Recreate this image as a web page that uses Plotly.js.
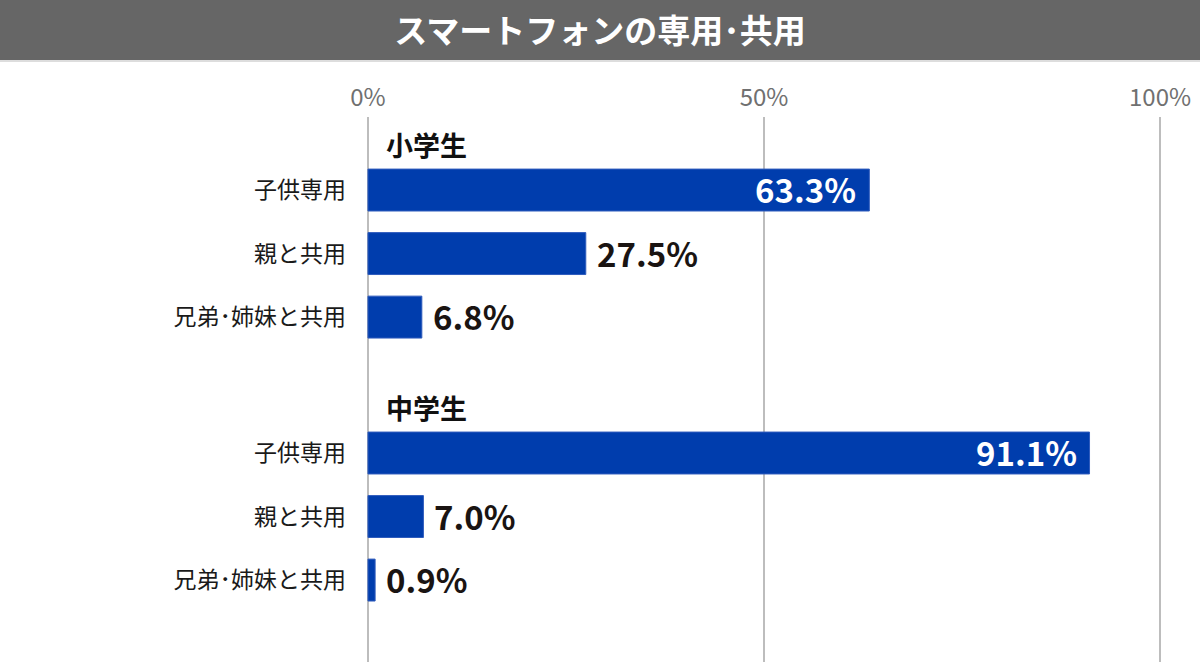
<!DOCTYPE html>
<html><head><meta charset="utf-8">
<script src="https://cdn.plot.ly/plotly-3.0.1.min.js"></script>
<style>html,body{margin:0;padding:0;background:#fff;}#chart{width:1200px;height:662px;}</style>
</head><body><div id="chart"></div>
<script>
const chartTitle = "スマートフォンの専用･共用";
const groups = ["小学生", "中学生"];
const categories = ["子供専用", "親と共用", "兄弟･姉妹と共用"];
const elementary = [63.3, 27.5, 6.8];
const juniorHigh = [91.1, 7.0, 0.9];
const xTickVals = [0, 50, 100];
const xTickText = ["0%", "50%", "100%"];

const series = [elementary, juniorHigh];
const groupStart = [0, 4.14];
const groupLabelOffset = -0.72;

const ys = [], xs = [], ticktext = [];
const annotations = [];
series.forEach((vals, g) => {
  annotations.push({
    x: 0, y: groupStart[g] + groupLabelOffset, xref: 'x', yref: 'y',
    text: groups[g], showarrow: false, xanchor: 'left', yanchor: 'middle', xshift: 16,
    font: {family: 'Noto Sans CJK JP', size: 27, color: '#111', weight: 700}
  });
  vals.forEach((v, i) => {
    const y = groupStart[g] + i;
    ys.push(y); xs.push(v); ticktext.push(categories[i]);
    const inside = v > 50;
    annotations.push({
      x: v, y: y, xref: 'x', yref: 'y', text: v.toFixed(1) + '%', showarrow: false,
      xanchor: inside ? 'right' : 'left', yanchor: 'middle', xshift: inside ? -11 : 9, yshift: 1,
      font: {family: 'Noto Sans CJK JP', size: 33, color: inside ? '#ffffff' : '#1a1412', weight: 700}
    });
  });
});

const trace = {
  type: 'bar', orientation: 'h', x: xs, y: ys, width: 0.66,
  marker: {color: '#003DAD', line: {color: '#2f5cbd', width: 1}},
  hoverinfo: 'skip', cliponaxis: false
};

const layout = {
  width: 1200, height: 662,
  margin: {l: 366, r: 38, t: 117, b: 0, pad: 0},
  paper_bgcolor: '#ffffff', plot_bgcolor: '#ffffff',
  showlegend: false,
  title: {text: chartTitle, x: 0.5, xref: 'container', xanchor: 'center', y: 1 - 31/662, yref: 'container', yanchor: 'middle',
    font: {family: 'Noto Sans CJK JP', size: 33, color: '#ffffff', weight: 700}},
  xaxis: {range: [-0.25, 100.25], side: 'top', tickvals: xTickVals, ticktext: xTickText,
    showgrid: true, gridcolor: '#bdbdbd', gridwidth: 2, zeroline: false, showline: false,
    ticks: '', ticklabelstandoff: 5,
    tickfont: {family: 'Noto Sans CJK JP', size: 24, color: '#707070'}, fixedrange: true},
  yaxis: {range: [7.43, -1.15], tickvals: ys, ticktext: ticktext, showgrid: false, zeroline: false,
    showline: false, ticks: '', ticklabelstandoff: 19,
    tickfont: {family: 'Noto Sans CJK JP', size: 23, color: '#1a1a1a'}, fixedrange: true},
  shapes: [
    {type: 'rect', xref: 'paper', yref: 'paper', x0: -1, x1: 2, ysizemode: 'pixel', yanchor: 1, y0: 57, y1: 130,
      fillcolor: '#666666', line: {width: 0}, layer: 'below'},
    {type: 'line', xref: 'paper', yref: 'paper', x0: -1, x1: 2, ysizemode: 'pixel', yanchor: 1, y0: 56, y1: 56,
      line: {color: '#dddddd', width: 2}, layer: 'below'}
  ],
  annotations: annotations,
  bargap: 0
};

Plotly.newPlot('chart', [trace], layout, {displayModeBar: false, staticPlot: true});
</script></body></html>
